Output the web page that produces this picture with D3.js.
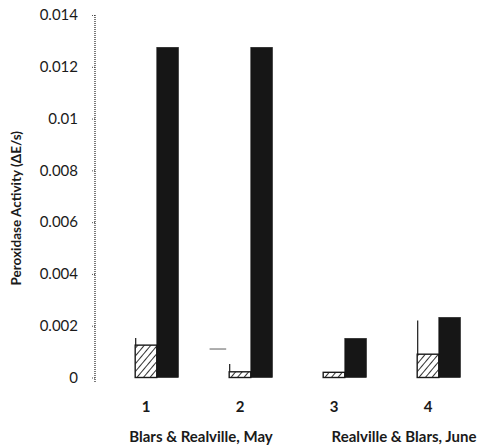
<!DOCTYPE html>
<html>
<head>
<meta charset="utf-8">
<script src="https://cdn.jsdelivr.net/npm/d3@7/dist/d3.min.js"></script>
<style>
  html, body { margin: 0; padding: 0; background: #fff; }
  svg { display: block; }
  text { font-family: Lato, "Open Sans", sans-serif; fill: #1a1a1a; }
</style>
</head>
<body>
<svg id="chart" width="480" height="446"></svg>
<script>
// Sample groups along the x axis
const categories = ["1", "2", "3", "4"];
// Series order within each group
const seriesNames = ["control", "hatched", "solid"];
// Peroxidase activity (ΔE/s) per series
const controlValues = [0, 0.0011, 0, 0];
const hatchedValues = [0.00125, 0.00022, 0.0002, 0.0009];
const solidValues = [0.01275, 0.01275, 0.00151, 0.00232];
// Upper error for the hatched series
const hatchedErrors = [0.00028, 0.0003, 0, 0.0013];
// Y axis ticks
const yTicks = [0, 0.002, 0.004, 0.006, 0.008, 0.01, 0.012, 0.014];
const yTickLabels = ["0", "0.002", "0.004", "0.006", "0.008", "0.01", "0.012", "0.014"];
// Site / month captions under the axis
const groupCaptions = ["Blars & Realville, May", "Realville & Blars, June"];

const svg = d3.select("#chart");

const y = d3.scaleLinear().domain([0, 0.014]).range([377.5, 15]);
const x = d3.scaleBand().domain(categories).range([99, 475]).paddingInner(0.31).paddingOuter(0.155);
const xs = d3.scaleBand().domain(seriesNames).range([0, x.bandwidth()]);

// Diagonal hatch pattern
const defs = svg.append("defs");
const pat = defs.append("pattern")
  .attr("id", "hatch")
  .attr("patternUnits", "userSpaceOnUse")
  .attr("width", 5).attr("height", 5)
  .attr("patternTransform", "rotate(40)");
pat.append("rect").attr("width", 5).attr("height", 5).attr("fill", "#fff");
pat.append("line").attr("x1", 0).attr("y1", 0).attr("x2", 0).attr("y2", 5)
  .attr("stroke", "#1a1a1a").attr("stroke-width", 1.8);

// Y axis: dotted spine with short ticks
const yAxis = d3.axisLeft(y).tickValues(yTicks)
  .tickFormat((d, i) => yTickLabels[i]).tickSize(4).tickPadding(13);
const gy = svg.append("g").attr("transform", "translate(95,0)").call(yAxis);
gy.attr("font-size", null).attr("font-family", null);
gy.select(".domain").remove();
gy.selectAll(".tick line").attr("stroke", "#555").attr("stroke-dasharray", "1,1");
gy.selectAll(".tick text")
  .style("font-size", "15px")
  .style("font-family", "Lato, 'Open Sans', sans-serif")
  .style("fill", "#1a1a1a");
gy.append("line").attr("x1", 0).attr("x2", 0).attr("y1", y(0.014)).attr("y2", 383)
  .attr("stroke", "#333").attr("stroke-width", 1.3).attr("stroke-dasharray", "1,1");

// Y axis title
svg.append("text")
  .attr("transform", `translate(21,${(y(0.014) + y(0)) / 2 + 12}) rotate(-90)`)
  .attr("text-anchor", "middle")
  .style("font-size", "13.5px").style("font-weight", "bold")
  .text("Peroxidase Activity (ΔE/s)");

const groups = svg.append("g").selectAll("g")
  .data(categories)
  .join("g")
  .attr("transform", d => `translate(${x(d)},0)`);

// Control series: only the top edge shows
groups.filter((d, i) => controlValues[i] > 0)
  .append("line")
  .attr("x1", xs("control") + 2)
  .attr("x2", xs("control") + xs.bandwidth() - 3)
  .attr("y1", (d) => y(controlValues[categories.indexOf(d)]))
  .attr("y2", (d) => y(controlValues[categories.indexOf(d)]))
  .attr("stroke", "#777").attr("stroke-width", 1.2);

// Hatched bars
groups.append("rect")
  .attr("x", xs("hatched"))
  .attr("width", xs.bandwidth())
  .attr("y", (d, i) => y(hatchedValues[i]))
  .attr("height", (d, i) => y(0) - y(hatchedValues[i]))
  .attr("fill", "url(#hatch)")
  .attr("stroke", "#1a1a1a").attr("stroke-width", 1.4);

// Error lines on the hatched bars
groups.filter((d, i) => hatchedErrors[i] > 0)
  .append("line")
  .attr("x1", xs("hatched") + 0.5).attr("x2", xs("hatched") + 0.5)
  .attr("y1", d => { const i = categories.indexOf(d); return y(hatchedValues[i]); })
  .attr("y2", d => { const i = categories.indexOf(d); return y(hatchedValues[i] + hatchedErrors[i]); })
  .attr("stroke", "#1a1a1a").attr("stroke-width", 1.2);

// Solid bars
groups.append("rect")
  .attr("x", xs("solid"))
  .attr("width", xs.bandwidth())
  .attr("y", (d, i) => y(solidValues[i]))
  .attr("height", (d, i) => y(0) - y(solidValues[i]))
  .attr("fill", "#161616")
  .attr("stroke", "#161616").attr("stroke-width", 0.6);

// Category numbers
svg.append("g").selectAll("text")
  .data(categories)
  .join("text")
  .attr("x", d => x(d) + xs("hatched") + xs.bandwidth() / 2)
  .attr("y", 412)
  .attr("text-anchor", "middle")
  .style("font-size", "15px").style("font-weight", "bold")
  .text(d => d);

// Group captions
const captionX = [(x("1") + x("2")) / 2 + x.bandwidth() / 2 + 8, (x("3") + x("4")) / 2 + x.bandwidth() / 2 + 23];
svg.append("g").selectAll("text")
  .data(groupCaptions)
  .join("text")
  .attr("x", (d, i) => captionX[i])
  .attr("y", 442)
  .attr("text-anchor", "middle")
  .style("font-size", "15px").style("font-weight", "bold")
  .text(d => d);
</script>
</body>
</html>
